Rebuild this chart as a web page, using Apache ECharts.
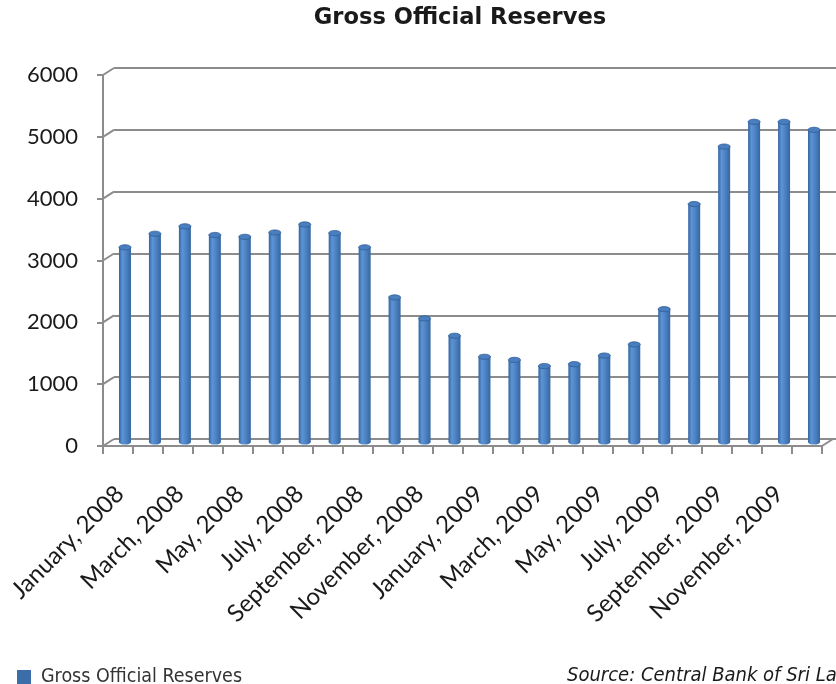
<!DOCTYPE html>
<html>
<head>
<meta charset="utf-8">
<script src="https://cdn.jsdelivr.net/npm/echarts@6/dist/echarts.min.js"></script>
<style>
  html, body { margin: 0; padding: 0; background: #ffffff; }
  #chart { width: 836px; height: 684px; }
</style>
</head>
<body>
<div id="chart"></div>
<script>
// Monthly gross official reserves, USD million
const months = [
  'January, 2008', 'February, 2008', 'March, 2008', 'April, 2008', 'May, 2008', 'June, 2008',
  'July, 2008', 'August, 2008', 'September, 2008', 'October, 2008', 'November, 2008', 'December, 2008',
  'January, 2009', 'February, 2009', 'March, 2009', 'April, 2009', 'May, 2009', 'June, 2009',
  'July, 2009', 'August, 2009', 'September, 2009', 'October, 2009', 'November, 2009', 'December, 2009'
];
const reserves = [
  3190, 3410, 3530, 3390, 3360, 3430, 3560, 3420, 3190, 2380, 2040, 1760,
  1420, 1370, 1270, 1300, 1440, 1620, 2190, 3890, 4820, 5220, 5220, 5090
];
const yMin = 0;
const yMax = 6000;
const yStep = 1000;
const seriesName = 'Gross Official Reserves';
const chartTitle = 'Gross Official Reserves';
const sourceNote = 'Source: Central Bank of Sri Lanka';

// Layout of the pseudo-3D frame: front axes, back wall, and the bar plane between them
const FRONT = { left: 103, top: 75, width: 719, height: 371 };
const BACK  = { left: 114, top: 68, width: 722, height: 371 };
const BARS  = { left: 110, top: 71, width: 719, height: 371 };
const LABELS = { left: 105, top: 75, width: 719, height: 371 };

const AXIS_GREY = '#8c8c8c';
const LABEL_FONT = 'Lato';
const chart = echarts.init(document.getElementById('chart'), null, { renderer: 'canvas' });

const valueAxisBase = { type: 'value', min: yMin, max: yMax, interval: yStep };
const catAxisBase = { type: 'category', data: months, boundaryGap: true };

function cylinder(params, api) {
  const top = api.coord([api.value(0), api.value(1)]);
  const base = api.coord([api.value(0), 0]);
  const rx = 6, ry = 2.6;
  const cx = top[0];
  const body = new echarts.graphic.LinearGradient(0, 0, 1, 0, [
    { offset: 0, color: '#33649f' },
    { offset: 0.28, color: '#5c94d6' },
    { offset: 0.55, color: '#4f85c6' },
    { offset: 1, color: '#3566a0' }
  ]);
  return {
    type: 'group',
    children: [
      { type: 'rect', shape: { x: cx - rx, y: top[1] + ry, width: rx * 2, height: base[1] - top[1] - ry }, style: { fill: body } },
      { type: 'ellipse', shape: { cx: cx, cy: base[1], rx: rx, ry: ry }, style: { fill: body } },
      { type: 'ellipse', shape: { cx: cx, cy: top[1] + ry, rx: rx, ry: ry }, style: { fill: '#4a7ebe', stroke: '#2f5d95', lineWidth: 0.8 } }
    ]
  };
}

chart.setOption({
  animation: false,
  backgroundColor: '#ffffff',
  grid: [
    Object.assign({ containLabel: false }, FRONT),
    Object.assign({ containLabel: false }, BACK),
    Object.assign({ containLabel: false }, BARS),
    Object.assign({ containLabel: false }, LABELS)
  ],
  xAxis: [
    Object.assign({}, catAxisBase, {
      gridIndex: 0,
      axisLine: { show: true, lineStyle: { color: AXIS_GREY, width: 2 } },
      axisTick: { show: true, inside: false, length: 8, interval: 0, lineStyle: { color: AXIS_GREY, width: 2 } },
      axisLabel: { show: false },
      splitLine: { show: false }
    }),
    Object.assign({}, catAxisBase, { gridIndex: 1, show: false }),
    Object.assign({}, catAxisBase, { gridIndex: 2, show: false }),
    Object.assign({}, catAxisBase, {
      gridIndex: 3,
      axisLine: { show: false },
      axisTick: { show: false },
      splitLine: { show: false },
      axisLabel: {
        show: true, interval: 1, rotate: 45, margin: 44,
        fontFamily: LABEL_FONT, fontSize: 24, color: '#1a1a1a'
      }
    })
  ],
  yAxis: [
    Object.assign({}, valueAxisBase, {
      gridIndex: 0,
      axisLine: { show: true, lineStyle: { color: AXIS_GREY, width: 2 } },
      axisTick: { show: true, inside: false, length: 6, lineStyle: { color: AXIS_GREY, width: 2 } },
      axisLabel: {
        show: true, margin: 25, fontFamily: LABEL_FONT, fontSize: 22, color: '#1a1a1a',
        formatter: (v) => String(v)
      },
      splitLine: { show: false }
    }),
    Object.assign({}, valueAxisBase, {
      gridIndex: 1,
      axisLine: { show: false },
      axisTick: { show: false },
      axisLabel: { show: false },
      splitLine: { show: true, lineStyle: { color: AXIS_GREY, width: 2 } }
    }),
    Object.assign({}, valueAxisBase, { gridIndex: 2, show: false }),
    Object.assign({}, valueAxisBase, { gridIndex: 3, show: false })
  ],
  legend: {
    data: [seriesName],
    left: 17, top: 667, padding: 0,
    itemWidth: 14, itemHeight: 14, icon: 'rect',
    textStyle: { fontFamily: 'DejaVu Sans Condensed', fontSize: 19.5, color: '#333333', padding: [0, 0, 0, 5] }
  },
  series: [{
    name: seriesName,
    type: 'custom',
    xAxisIndex: 2,
    yAxisIndex: 2,
    itemStyle: { color: '#3b6ea8' },
    encode: { x: 0, y: 1 },
    data: reserves.map((v, i) => [i, v]),
    renderItem: cylinder
  }]
});

// Diagonal edges joining the front axes to the back wall, plus title and source
const connectors = [];
const slope = { dx: BACK.left - FRONT.left, dy: BACK.top - FRONT.top };
for (let v = yMin; v <= yMax; v += yStep) {
  const y = chart.convertToPixel({ yAxisIndex: 0 }, v);
  connectors.push({
    type: 'line',
    shape: { x1: FRONT.left, y1: y, x2: FRONT.left + slope.dx, y2: y + slope.dy },
    style: { stroke: AXIS_GREY, lineWidth: 2 }
  });
}
const yZero = chart.convertToPixel({ yAxisIndex: 0 }, yMin);
const xEnd = FRONT.left + FRONT.width;
connectors.push({
  type: 'line',
  shape: { x1: xEnd, y1: yZero, x2: xEnd + slope.dx, y2: yZero + slope.dy },
  style: { stroke: AXIS_GREY, lineWidth: 2 }
});

chart.setOption({
  graphic: connectors.concat([
    {
      type: 'text', x: 460, y: 18,
      style: { text: chartTitle, align: 'center', verticalAlign: 'middle',
               font: 'bold 22.6px "DejaVu Sans"', fill: '#1a1a1a' }
    },
    {
      type: 'text', x: 567, y: 676,
      style: { text: sourceNote, align: 'left', verticalAlign: 'middle',
               font: 'italic 20px "DejaVu Sans Condensed"', fill: '#1a1a1a' }
    }
  ])
});
</script>
</body>
</html>
